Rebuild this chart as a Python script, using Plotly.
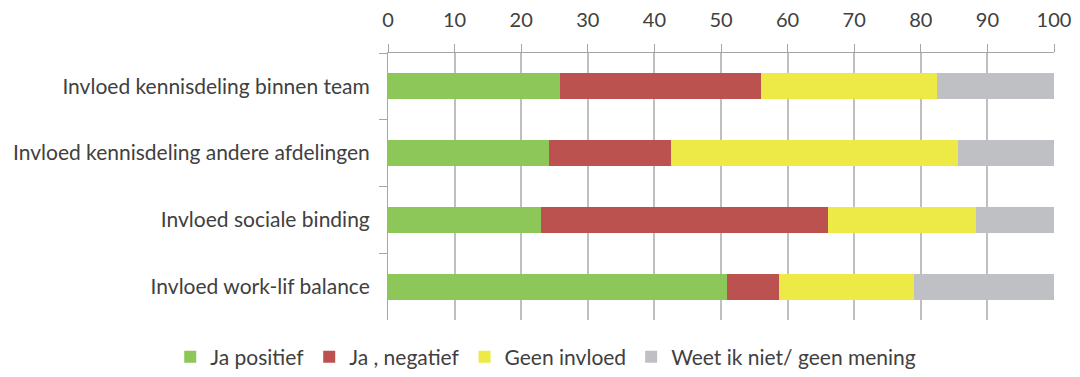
import plotly.graph_objects as go

# Survey categories (top to bottom)
categories = [
    "Invloed kennisdeling binnen team",
    "Invloed kennisdeling andere afdelingen",
    "Invloed sociale binding",
    "Invloed work-lif balance",
]

# Percentages per answer
ja_positief = [25.8, 24.1, 23.0, 50.9]
ja_negatief = [30.2, 18.4, 43.1, 7.8]
geen_invloed = [26.5, 43.1, 22.2, 20.3]
weet_niet = [17.5, 14.4, 11.7, 21.0]

series_names = ["Ja positief", "Ja , negatief", "Geen invloed", "Weet ik niet/ geen mening"]
series_values = [ja_positief, ja_negatief, geen_invloed, weet_niet]
series_colors = ["#8DC75A", "#BC5250", "#EDE947", "#BFC0C3"]

x_ticks = list(range(0, 101, 10))

fig = go.Figure()
for name, vals, col in zip(series_names, series_values, series_colors):
    fig.add_trace(go.Bar(
        y=categories, x=vals, name=name, orientation="h",
        marker=dict(color=col, line=dict(width=0)), width=0.39,
    ))

font_family = "Lato, 'Open Sans', sans-serif"
fig.update_layout(
    barmode="stack",
    width=1080, height=377,
    margin=dict(l=388, r=26, t=53, b=57, autoexpand=False),
    paper_bgcolor="white", plot_bgcolor="white",
    font=dict(family=font_family, size=20, color="#404040"),
    showlegend=True,
    # legend placed left of and below the plot area so it stays on one row
    legend=dict(orientation="h", x=-0.327, xref="paper", xanchor="left",
                y=-0.139, yref="paper", yanchor="middle",
                font=dict(size=21, color="#404040"),
                traceorder="normal"),
    xaxis=dict(side="top", range=[0, 100], tickvals=x_ticks,
               ticks="outside", ticklen=8, tickcolor="#A6A6A6",
               showline=True, linecolor="#A6A6A6", linewidth=1,
               showgrid=True, gridcolor="#BFBFBF", gridwidth=1.5,
               zeroline=False, ticklabelstandoff=9,
               tickfont=dict(size=20, color="#404040")),
    yaxis=dict(autorange="reversed", showline=True, linecolor="#A6A6A6", linewidth=1,
               ticks="outside", ticklen=8, tickcolor="#A6A6A6", tickson="boundaries",
               showgrid=False, ticklabelstandoff=13,
               tickfont=dict(size=21, color="#404040")),
)

fig.write_html("out.html")
